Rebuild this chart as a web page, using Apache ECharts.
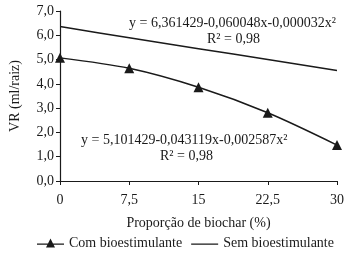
<!DOCTYPE html>
<html><head><meta charset="utf-8">
<script src="https://cdn.jsdelivr.net/npm/echarts@6/dist/echarts.min.js"></script>
<style>html,body{margin:0;padding:0;background:#fff}#c{width:347px;height:258px}</style>
</head><body><div id="c"></div>
<script>
var xValues = [0, 7.5, 15, 22.5, 30];
var comValues = [5.07, 4.64, 3.86, 2.81, 1.48];
var semValues = [6.36, 5.90, 5.45, 5.00, 4.55];
var yTicks = [0, 1, 2, 3, 4, 5, 6, 7];
var eqCom = 'y = 5,101429-0,043119x-0,002587x²';
var eqSem = 'y = 6,361429-0,060048x-0,000032x²';
var r2 = 'R² = 0,98';
var seriesNames = ['Com bioestimulante', 'Sem bioestimulante'];

var font = 'Liberation Serif';
var col = '#1a1a1a';
var fs = 14;
var chart = echarts.init(document.getElementById('c'), null, {renderer: 'canvas'});
function fmt(v){ return String(v).replace('.', ','); }
chart.setOption({
  animation: false,
  textStyle: {fontFamily: font, color: col},
  grid: {left: 55, right: 9, top: 11, bottom: 77},
  legend: {
    bottom: 3, left: 32, itemGap: 9, itemWidth: 27, itemHeight: 9,
    textStyle: {fontFamily: font, fontSize: fs, color: col},
    data: [
      {name: seriesNames[0], icon: 'path://M0,5L27,5L27,6.2L0,6.2Z M13.5,0L18,9L9,9Z'},
      {name: seriesNames[1], icon: 'path://M0,5L27,5L27,6.2L0,6.2Z M0,0L0.01,0Z M0,9L0.01,9Z'}
    ]
  },
  xAxis: {
    type: 'value', min: 0, max: 30, interval: 7.5,
    name: 'Proporção de biochar (%)', nameLocation: 'middle', nameGap: 35,
    nameTextStyle: {fontFamily: font, fontSize: fs, color: col},
    axisLine: {lineStyle: {color: col, width: 1.2}},
    axisTick: {show: true, length: 4, lineStyle: {color: col}},
    splitLine: {show: false},
    axisLabel: {fontFamily: font, fontSize: fs, color: col, margin: 12, formatter: fmt}
  },
  yAxis: {
    type: 'value', min: yTicks[0], max: yTicks[yTicks.length-1], interval: 1,
    name: 'VR (ml/raiz)', nameLocation: 'middle', nameGap: 38, nameRotate: 90,
    nameTextStyle: {fontFamily: font, fontSize: fs, color: col},
    axisLine: {show: true, lineStyle: {color: col, width: 1.2}},
    axisTick: {show: true, length: 4, lineStyle: {color: col}},
    splitLine: {show: false},
    axisLabel: {fontFamily: font, fontSize: fs, color: col, margin: 6, formatter: function(v){ return v.toFixed(1).replace('.', ','); }}
  },
  series: [
    {
      name: seriesNames[0], type: 'line', smooth: 0.3,
      data: xValues.map(function(x, i){ return [x, comValues[i]]; }),
      symbol: 'triangle', symbolSize: 10,
      lineStyle: {color: col, width: 1.5},
      itemStyle: {color: col}
    },
    {
      name: seriesNames[1], type: 'line', smooth: 0.3,
      data: xValues.map(function(x, i){ return [x, semValues[i]]; }),
      symbol: 'none',
      lineStyle: {color: col, width: 1.5},
      itemStyle: {color: col}
    }
  ],
  graphic: [
    {type: 'text', left: 129, top: 16, style: {text: eqSem, font: fs + 'px "Liberation Serif"', fill: col}},
    {type: 'text', left: 207, top: 32, style: {text: r2, font: fs + 'px "Liberation Serif"', fill: col}},
    {type: 'text', left: 81, top: 133, style: {text: eqCom, font: fs + 'px "Liberation Serif"', fill: col}},
    {type: 'text', left: 160, top: 149, style: {text: r2, font: fs + 'px "Liberation Serif"', fill: col}}
  ]
});
</script></body></html>
